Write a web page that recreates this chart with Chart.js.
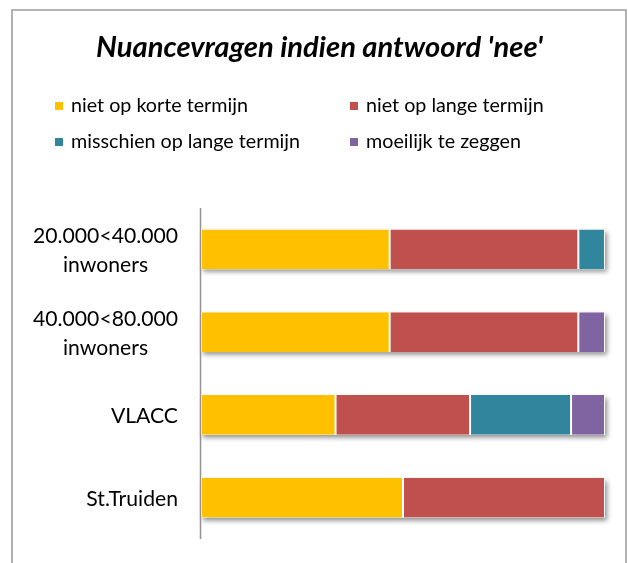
<!DOCTYPE html>
<html><head><meta charset="utf-8">
<script src="https://cdn.jsdelivr.net/npm/chart.js@4"></script>
<style>html,body{margin:0;padding:0;background:#fff}#wrap{position:relative;width:628px;height:563px}</style>
</head><body><div id="wrap"><canvas id="c" width="628" height="563"></canvas></div>
<script>
const chartTitle = "Nuancevragen indien antwoord 'nee'";
const categories = [['20.000<40.000', 'inwoners'], ['40.000<80.000', 'inwoners'], ['VLACC'], ['St.Truiden']];
const seriesNames = ['niet op korte termijn', 'niet op lange termijn', 'misschien op lange termijn', 'moeilijk te zeggen'];
const nietOpKorteTermijn = [46.7, 46.7, 33.3, 50];
const nietOpLangeTermijn = [46.7, 46.7, 33.3, 50];
const misschienOpLangeTermijn = [6.6, 0, 25, 0];
const moeilijkTeZeggen = [0, 6.6, 8.4, 0];
const seriesColors = ['#FFC000', '#C0504D', '#31859C', '#8064A2'];

const FONT = 'Lato, "Open Sans", sans-serif';
function fitSize(ctx, text, style, target) {
  ctx.font = style + ' 100px ' + FONT;
  return 100 * target / ctx.measureText(text).width;
}

const decor = {
  id: 'decor',
  beforeDraw(chart) {
    const ctx = chart.ctx;
    ctx.save();
    ctx.fillStyle = '#fff';
    ctx.fillRect(0, 0, chart.width, chart.height);
    ctx.strokeStyle = '#9a9a9a';
    ctx.lineWidth = 1.5;
    ctx.strokeRect(12, 10, 614, 620);
    ctx.restore();
  },
  beforeDatasetsDraw(chart) {
    // drop shadow behind each stacked bar, using the library's element geometry
    const ctx = chart.ctx;
    const metas = chart.data.datasets.map((d, i) => chart.getDatasetMeta(i));
    ctx.save();
    ctx.shadowColor = 'rgba(0,0,0,0.45)';
    ctx.shadowBlur = 5;
    ctx.shadowOffsetX = 2;
    ctx.shadowOffsetY = 3;
    ctx.fillStyle = '#ffffff';
    categories.forEach((c, idx) => {
      let l = Infinity, r = -Infinity, top = 0, h = 0;
      metas.forEach(m => {
        const el = m.data[idx];
        const p = el.getProps(['x', 'y', 'base', 'height'], true);
        l = Math.min(l, p.base, p.x);
        r = Math.max(r, p.base, p.x);
        top = p.y - p.height / 2; h = p.height;
      });
      ctx.fillRect(l, top, r - l, h);
    });
    ctx.restore();
  },
  afterDatasetsDraw(chart) {
    const ctx = chart.ctx;
    const a = chart.chartArea;
    ctx.save();
    ctx.strokeStyle = '#929292';
    ctx.lineWidth = 1.5;
    ctx.beginPath();
    ctx.moveTo(a.left - 0.5, a.top);
    ctx.lineTo(a.left - 0.5, a.bottom);
    ctx.stroke();
    ctx.restore();
  },
  afterDraw(chart) {
    const ctx = chart.ctx;
    ctx.save();
    const ts = fitSize(ctx, chartTitle, 'italic bold', 447);
    ctx.font = 'italic bold ' + ts + 'px ' + FONT;
    ctx.fillStyle = '#000';
    ctx.textAlign = 'center';
    ctx.textBaseline = 'alphabetic';
    ctx.fillText(chartTitle, 319.5, 57);
    const ls = fitSize(ctx, seriesNames[0], 'normal', 177);
    ctx.font = ls + 'px ' + FONT;
    ctx.textAlign = 'left';
    const colX = [55, 350];
    const rowY = [112, 148];
    chart.data.datasets.forEach((ds, i) => {
      const x = colX[i % 2], y = rowY[Math.floor(i / 2)];
      ctx.fillStyle = ds.backgroundColor;
      ctx.fillRect(x, y - 10, 8, 8);
      ctx.fillStyle = '#000';
      ctx.fillText(ds.label, x + 16, y);
    });
    const ys = chart.scales.y;
    const cs = fitSize(ctx, categories[0][0], 'normal', 145);
    ctx.font = cs + 'px ' + FONT;
    ctx.textAlign = 'center';
    const right = 178, lh = 29;
    categories.forEach((lines, i) => {
      const cy = ys.getPixelForValue(i);
      const w = Math.max(...lines.map(l => ctx.measureText(l).width));
      const cx = right - w / 2;
      const first = cy + 8 - (lines.length - 1) * lh / 2;
      lines.forEach((l, j) => ctx.fillText(l, cx, first + j * lh));
    });
    ctx.restore();
  }
};

const seriesData = [nietOpKorteTermijn, nietOpLangeTermijn, misschienOpLangeTermijn, moeilijkTeZeggen];
new Chart(document.getElementById('c'), {
  type: 'bar',
  data: {
    labels: categories.map(c => c.join(' ')),
    datasets: seriesNames.map((n, i) => ({
      label: n,
      data: seriesData[i],
      backgroundColor: seriesColors[i],
      borderColor: '#ffffff',
      borderWidth: {left: 1, right: 1, top: 0, bottom: 0},
      borderSkipped: false,
      barPercentage: 0.483,
      categoryPercentage: 1,
      clip: false
    }))
  },
  options: {
    indexAxis: 'y',
    responsive: false,
    animation: false,
    layout: {padding: {left: 201, right: 23, top: 208, bottom: 24}},
    scales: {
      x: {stacked: true, min: 0, max: 100, display: false},
      y: {stacked: true, display: false}
    },
    plugins: {legend: {display: false}, title: {display: false}, tooltip: {enabled: false}}
  },
  plugins: [decor]
});
</script>
</body></html>
